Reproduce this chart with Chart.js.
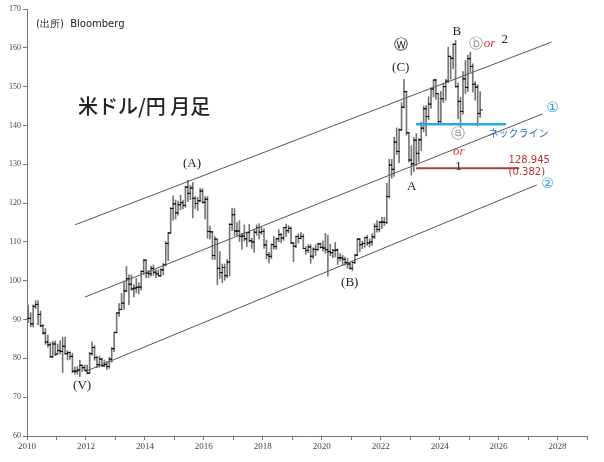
<!DOCTYPE html>
<html><head><meta charset="utf-8">
<script src="https://cdn.jsdelivr.net/npm/chart.js@4/dist/chart.umd.min.js"></script>
<style>html,body{margin:0;padding:0;background:#fff}#w{width:604px;height:462px}</style>
</head><body><div id="w"><canvas id="c"></canvas></div>
<script>
const startYear = 2010;
// monthly close / high / low, Jan 2010 .. May 2025
const closes = [90.3,88.9,93.4,93.9,91.3,88.4,86.5,84.2,83.5,80.4,83.7,81.1,
82.0,81.8,83.1,81.2,81.5,80.5,76.7,76.7,77.0,78.2,77.6,76.9,
76.2,81.2,82.8,80.2,78.4,79.8,78.1,78.4,77.9,79.8,82.5,86.7,
91.7,92.6,94.2,97.4,100.5,99.1,97.9,98.1,98.3,98.4,102.4,105.3,
102.0,101.8,103.2,102.2,101.8,101.3,102.8,104.1,109.6,112.3,118.6,119.8,
117.5,119.6,120.1,119.4,124.1,122.5,123.9,121.2,119.9,120.6,123.1,120.2,
121.0,112.7,112.6,106.5,110.7,103.2,102.1,103.4,101.3,104.8,114.5,117.0,
112.8,112.8,111.4,111.5,110.8,112.4,110.3,110.0,112.5,113.7,112.5,112.7,
109.2,106.7,106.3,109.3,108.8,110.8,111.9,111.0,113.7,112.9,113.5,109.7,
108.9,111.4,110.9,111.4,108.3,107.8,108.7,106.3,108.1,108.0,109.5,108.6,
108.4,108.0,107.5,107.2,107.8,107.9,105.9,105.9,105.5,104.7,104.3,103.2,
104.7,106.6,110.7,109.3,109.6,111.1,109.7,110.0,111.3,114.0,113.2,115.1,
115.1,115.0,121.7,129.8,128.7,135.7,133.3,138.9,144.7,148.7,138.1,131.1,
130.1,136.2,132.8,136.3,139.3,144.3,142.3,145.5,149.4,151.7,148.2,141.0,
146.9,150.0,151.4,157.8,157.3,160.9,150.0,146.2,143.6,152.0,149.8,157.2,
155.2,150.6,149.9,143.1,144.0];
const highs = [93.7,91.8,93.8,94.9,94.9,92.2,88.7,87.7,86.0,84.1,84.4,84.5,
83.7,84.5,85.5,85.5,82.0,81.7,81.3,77.8,77.9,79.5,78.3,78.3,
78.3,81.6,84.2,83.3,80.6,80.6,80.1,79.6,79.2,80.3,82.8,86.6,
91.7,94.1,96.7,99.9,103.7,101.5,101.5,99.0,100.6,99.5,102.6,105.4,
105.4,102.7,103.8,104.1,102.8,102.8,103.1,104.5,110.1,112.5,118.9,121.8,
120.8,120.5,122.0,120.8,124.4,125.9,124.6,125.3,121.7,121.5,123.8,123.7,
121.7,121.7,114.1,112.7,111.4,110.5,107.5,104.3,104.3,105.5,114.8,118.7,
118.6,115.0,115.5,112.2,114.4,112.5,114.5,111.0,113.3,114.4,114.7,113.8,
113.4,110.5,107.3,109.5,111.4,111.0,113.2,112.2,113.7,114.6,114.2,113.8,
109.9,111.5,112.1,112.4,112.0,108.8,109.3,109.3,108.5,109.3,109.7,109.7,
110.3,112.2,111.7,109.4,108.1,109.9,108.2,107.0,106.6,106.1,105.7,104.8,
104.9,106.7,110.9,110.9,110.2,111.1,111.7,110.8,112.1,114.7,115.5,115.2,
116.3,116.3,125.1,131.3,131.3,137.0,139.4,139.1,145.9,151.9,148.8,138.2,
134.8,136.9,137.9,136.6,140.9,145.0,145.1,147.4,149.7,151.7,151.9,148.0,
148.8,150.9,151.9,160.2,157.7,161.0,161.9,150.9,147.2,153.9,156.8,158.1,
158.9,155.9,151.3,150.5,148.7];
const lows = [89.2,88.1,88.1,92.8,88.6,88.1,86.2,83.6,82.9,80.2,80.3,80.7,
81.4,81.1,76.3,81.1,79.6,79.7,76.3,75.9,75.9,75.3,76.6,76.9,
76.0,76.1,80.8,79.5,77.6,77.7,77.9,77.9,77.1,77.4,79.0,81.7,
86.5,90.8,92.6,92.6,97.1,93.8,97.5,95.8,96.9,96.6,97.6,101.6,
100.8,100.8,101.2,101.4,100.8,101.1,101.1,101.5,103.8,105.2,112.3,115.6,
115.9,116.9,118.3,118.5,118.9,120.4,120.9,116.2,118.6,118.1,120.3,119.9,
115.9,110.9,110.7,105.5,105.5,99.0,100.6,99.5,100.1,100.8,101.2,112.9,
111.6,111.6,110.1,108.1,110.2,108.8,110.0,108.3,107.3,111.7,110.8,111.9,
108.3,105.6,104.6,105.7,108.1,108.1,110.0,109.8,110.4,111.4,112.3,109.6,
104.9,108.5,109.7,110.8,108.3,106.8,107.2,104.5,105.7,106.5,107.9,108.4,
107.6,107.0,101.2,106.4,105.9,106.1,104.2,105.1,104.0,104.0,103.2,102.9,
102.6,104.4,106.4,107.5,108.3,108.6,109.1,108.7,109.1,110.8,112.5,112.6,
113.5,114.2,114.7,121.3,126.4,126.9,132.5,130.4,138.7,144.5,137.5,130.6,
127.2,128.1,129.6,130.6,133.5,138.4,137.3,141.5,144.4,147.3,146.7,140.2,
140.8,145.9,146.5,151.0,151.9,154.6,149.9,141.7,139.6,142.9,148.2,148.7,
153.7,148.6,146.5,139.9,142.1];
const yTicks = [60,70,80,90,100,110,120,130,140,150,160,170];
const xLabelYears = [2010,2012,2014,2016,2018,2020,2022,2024,2026,2028];
// channel lines [start, end] in (year, value)
const upperLine = [{x:2011.63,y:114.4},{x:2027.8,y:161.5}];
const midLine = [{x:2011.97,y:95.8},{x:2027.5,y:143.0}];
const lowLine = [{x:2011.97,y:76.6},{x:2027.3,y:124.7}];
const neckLine = [{x:2023.2,y:140.3},{x:2026.25,y:140.3}];
const fibLine = [{x:2023.2,y:128.945},{x:2026.7,y:128.945}];
// text labels: [text, year, value, color, font]
const labels = [
 ['(A)',2015.6,130.3,'#222','13px "Liberation Serif"'],
 ['(V)',2011.87,73,'#222','13px "Liberation Serif"'],
 ['(B)',2020.95,99.4,'#222','13px "Liberation Serif"'],
 ['(C)',2022.68,155,'#222','13px "Liberation Serif"'],
 ['Ⓦ',2022.68,160.6,'#222','14px "DejaVu Sans"'],
 ['B',2024.58,164.1,'#222','13px "Liberation Serif"'],
 ['ⓑ',2025.23,160.8,'#999','14px "DejaVu Sans"'],
 ['A',2023.05,124.2,'#222','13px "Liberation Serif"'],
 ['ⓐ',2024.64,137.8,'#999','14px "DejaVu Sans"'],
 ['1',2024.64,129.3,'#222','13px "Liberation Serif"'],
 ['①',2027.83,144.5,'#2a9fd6','14px "DejaVu Sans"'],
 ['②',2027.66,124.7,'#2a9fd6','14px "DejaVu Sans"']
];
const bars=[], cls=[], ops=[];
for(let i=0;i<closes.length;i++){
  const x = startYear + (i+0.5)/12;
  bars.push({x, y:[lows[i],highs[i]]});
  cls.push({x:x+0.04, y:closes[i]});
  ops.push({x:x-0.04, y:i?closes[i-1]:closes[0]});
}
const seg=(d,c,w)=>({type:'line',data:d,borderColor:c,borderWidth:w,pointRadius:0,fill:false,order:0});
const txt={id:'txt',afterDatasetsDraw(ch){
  const c=ch.ctx,xs=ch.scales.x,ys=ch.scales.y;
  c.save();c.textAlign='center';c.textBaseline='middle';
  for(const [t,x,y,col,f] of labels){c.fillStyle=col;c.font=f;c.fillText(t,xs.getPixelForValue(x),ys.getPixelForValue(y));}
  const P=(x,y)=>[xs.getPixelForValue(x),ys.getPixelForValue(y)];
  c.textAlign='left';
  let p=P(2025.5,161.0);c.fillStyle='#e03030';c.font='italic 13px "Liberation Serif"';c.fillText('or',p[0],p[1]);
  p=P(2026.1,162.0);c.fillStyle='#222';c.font='13px "Liberation Serif"';c.fillText('2',p[0],p[1]);
  p=P(2024.45,133.3);c.fillStyle='#e03030';c.font='italic 13px "Liberation Serif"';c.fillText('or',p[0],p[1]);
  p=P(2025.66,138.1);c.fillStyle='#1e6fc0';c.font='10px "Noto Sans CJK JP"';c.fillText('ネックライン',p[0],p[1]);
  p=P(2026.34,131.1);c.fillStyle='#c03030';c.font='10px "DejaVu Sans"';c.fillText('128.945',p[0],p[1]);
  p=P(2026.34,128.0);c.fillText('(0.382)',p[0],p[1]);
  c.fillStyle='#222';c.font='10px "DejaVu Sans"';c.fillText('(出所)  Bloomberg',36,24);
  c.font='500 20px "Noto Sans CJK JP"';c.fillText('米ドル/円 月足',78,106);
  c.restore();
}};
new Chart(document.getElementById('c'),{
  data:{datasets:[
    {type:'bar',data:bars,backgroundColor:'#777',barThickness:1,grouped:false,order:2},
    {type:'scatter',data:cls,pointStyle:'line',radius:1.5,borderColor:'#111',borderWidth:1,order:1},
    {type:'scatter',data:ops,pointStyle:'line',radius:1.5,borderColor:'#111',borderWidth:1,order:1},
    seg(upperLine,'#555',1),seg(midLine,'#555',1),seg(lowLine,'#555',1),
    seg(neckLine,'#29a8e0',2.5),seg(fibLine,'#a84040',2)
  ]},
  options:{responsive:true,maintainAspectRatio:false,animation:false,
    layout:{padding:{top:9,right:17,left:0,bottom:0}},
    plugins:{legend:{display:false},tooltip:{enabled:false}},
    scales:{
      x:{type:'linear',min:2010,max:2029,offset:false,
        afterFit(s){s.height=26;s.paddingLeft=0;s.paddingRight=0;},
        grid:{drawOnChartArea:false,tickLength:4,color:'#777',offset:false},border:{color:'#777'},
        ticks:{stepSize:1,autoSkip:false,maxRotation:0,padding:1,color:'#444',font:{family:'Liberation Serif',size:9},
          callback:v=>xLabelYears.includes(v)?String(v):''}},
      y:{min:60,max:170,afterFit(s){s.width=27;s.paddingTop=0;s.paddingBottom=0;},
        afterBuildTicks(s){s.ticks=yTicks.map(v=>({value:v}));},
        grid:{drawOnChartArea:false,tickLength:4,color:'#777'},border:{color:'#777'},
        ticks:{padding:2,color:'#444',font:{family:'Liberation Serif',size:8}}}
    }},
  plugins:[txt]
});
</script></body></html>
